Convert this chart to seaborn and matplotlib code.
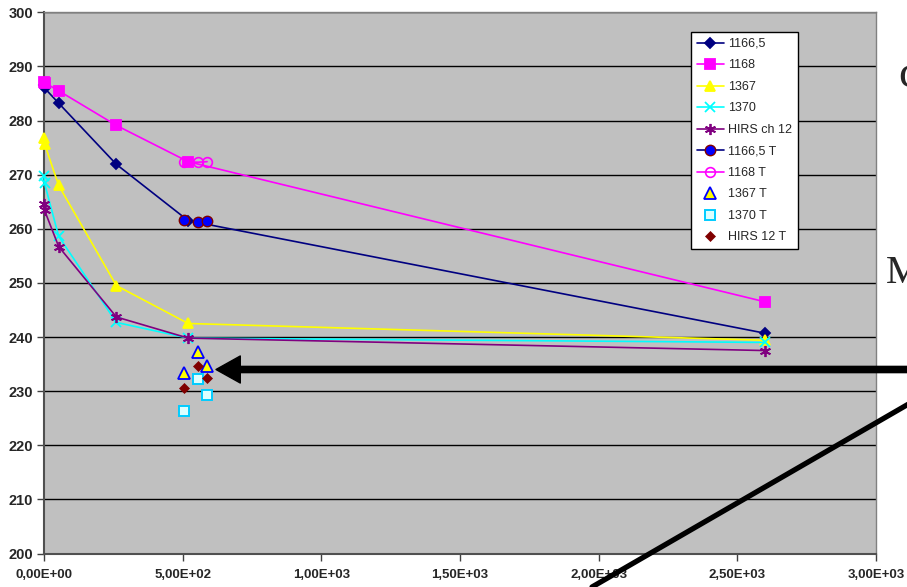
import matplotlib
matplotlib.use("Agg")
import matplotlib.pyplot as plt
from matplotlib.lines import Line2D
from matplotlib.ticker import FuncFormatter
import seaborn as sns
import pandas as pd

# Wavenumber series (x) and brightness temperatures (y)
x_line = [0, 2, 53, 261, 520, 2600]
y_1166_5 = [286.5, 286.0, 283.2, 271.9, 261.5, 240.7]
y_1168 = [287.2, 287.0, 285.5, 279.1, 272.4, 246.5]
y_1367 = [276.7, 275.7, 268.0, 249.5, 242.5, 239.4]
y_1370 = [269.7, 268.4, 258.6, 242.7, 239.8, 239.0]
y_hirs12 = [264.6, 263.4, 256.7, 243.7, 239.8, 237.5]

x_t = [506, 555, 588]
y_1166_5_t = [261.6, 261.2, 261.4]
y_1168_t = [272.4, 272.3, 272.4]
y_1367_t = [233.4, 237.2, 234.6]
y_1370_t = [226.3, 232.3, 229.2]
y_hirs12_t = [230.6, 234.7, 232.4]

x_ticks = [0, 500, 1000, 1500, 2000, 2500, 3000]
y_ticks = [200, 210, 220, 230, 240, 250, 260, 270, 280, 290, 300]

sns.set_style("white")
plt.rcParams["font.family"] = ["Liberation Sans", "DejaVu Sans"]

W, H = 907, 587
fig = plt.figure(figsize=(W / 100, H / 100), dpi=100)
ax = fig.add_axes([44 / W, 1 - 553.5 / H, (876 - 44) / W, (553.5 - 12.3) / H])
ax.set_facecolor("#C0C0C0")


def styled_line(xs, ys, name, col, mk, ms, fc, ec, mew=1.3, ls="-"):
    df = pd.DataFrame({"x": xs, "y": ys})
    sns.lineplot(data=df, x="x", y="y", ax=ax, color=col, marker=mk,
                 estimator=None, sort=False, label=name, lw=1.2, zorder=3)
    ln = ax.lines[-1]
    ln.set_markersize(ms)
    ln.set_markerfacecolor(fc)
    ln.set_markeredgecolor(ec)
    ln.set_markeredgewidth(mew)
    ln.set_linestyle(ls)
    ln.set_clip_on(False)


styled_line(x_line, y_1166_5, "1166,5", "#000080", "D", 5.5, "#000080", "#000080")
styled_line(x_line, y_1168, "1168", "#FF00FF", "s", 6.5, "#FF00FF", "#FF00FF")
styled_line(x_line, y_1367, "1367", "#FFFF00", "^", 7, "#FFFF00", "#FFFF00")
styled_line(x_line, y_1370, "1370", "#00FFFF", "x", 7, "#00FFFF", "#00FFFF")
styled_line(x_line, y_hirs12, "HIRS ch 12", "#800080", (6, 2, 0), 8, "#800080", "#800080")
styled_line(x_t, y_1166_5_t, "1166,5 T", "#000080", "o", 7.5, "#0000FF", "#800000", mew=1.0)
styled_line(x_t, y_1168_t, "1168 T", "#FF00FF", "o", 7, "none", "#FF00FF", mew=1.2)
styled_line(x_t, y_1367_t, "1367 T", "#0000FF", "^", 8.5, "#FFFF00", "#0000FF", mew=1.3, ls="none")
styled_line(x_t, y_1370_t, "1370 T", "#00CCFF", "s", 7, "#DDFFFF", "#00CCFF", mew=1.4, ls="none")
styled_line(x_t, y_hirs12_t, "HIRS 12 T", "#800000", "D", 5.5, "#800000", "#800000", mew=0.5, ls="none")

ax.set_xlim(0, 3000)
ax.set_ylim(200, 300)
ax.set_xticks(x_ticks)
ax.set_yticks(y_ticks)
ax.xaxis.set_major_formatter(FuncFormatter(lambda v, p: f"{v:.2E}".replace(".", ",")))
ax.yaxis.set_major_formatter(FuncFormatter(lambda v, p: f"{v:.0f}"))
ax.set_xlabel("")
ax.set_ylabel("")
ax.grid(axis="y", color="black", lw=1.0, zorder=1)
ax.grid(axis="x", visible=False)
ax.set_axisbelow(True)
for side in ["top", "right"]:
    ax.spines[side].set_color("#808080")
    ax.spines[side].set_linewidth(1.0)
for side in ["left", "bottom"]:
    ax.spines[side].set_color("#505050")
    ax.spines[side].set_linewidth(1.5)
ax.tick_params(axis="both", direction="out", length=5, width=1, color="#404040",
               pad=3, left=True, bottom=True)
ax.tick_params(axis="y", labelsize=10.5)
ax.tick_params(axis="x", labelsize=9.5, pad=6)
for lab in ax.get_xticklabels() + ax.get_yticklabels():
    lab.set_fontweight("bold")

leg = ax.legend(loc="upper left", bbox_to_anchor=(691 / W, 1 - 32.3 / H),
                bbox_transform=fig.transFigure, fontsize=9, frameon=True,
                fancybox=False, edgecolor="black", framealpha=1,
                handlelength=2.2, handletextpad=0.3, labelspacing=0.76,
                borderpad=0.45, borderaxespad=0)
leg.get_frame().set_linewidth(1.0)
leg.set_zorder(6)

# Overlaid pointer arrow and diagonal stroke
ax.annotate("", xy=(216, H - 369.5), xycoords="figure pixels",
            xytext=(915, H - 369.5), textcoords="figure pixels",
            arrowprops=dict(width=4.5, headwidth=19.5, headlength=17.5,
                            facecolor="black", edgecolor="black", shrink=0),
            annotation_clip=False, zorder=10)
fig.add_artist(Line2D([592 / W, 912 / W], [0, 1 - 402 / H],
                      transform=fig.transFigure, color="black", lw=3.8,
                      zorder=10))

fig.text(886 / W, 1 - 283 / H, "M", fontsize=29, family="Liberation Serif",
         ha="left", va="baseline")
fig.text(898 / W, 1 - 87 / H, "c", fontsize=34, family="Liberation Serif",
         ha="left", va="baseline")

fig.savefig("out.png", dpi=100)
